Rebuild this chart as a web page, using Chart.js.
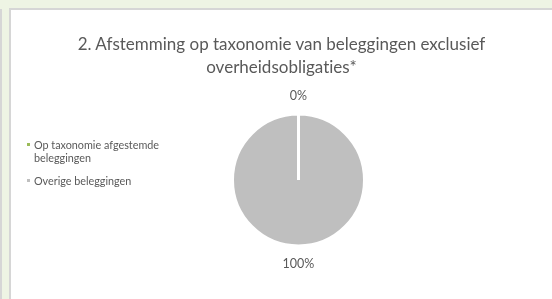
<!DOCTYPE html>
<html>
<head>
<meta charset="utf-8">
<script src="https://cdn.jsdelivr.net/npm/chart.js@4"></script>
<style>
  html, body { margin: 0; padding: 0; }
  body { width: 552px; height: 299px; background: #eef4e4; position: relative; overflow: hidden; font-family: Lato, "Open Sans", sans-serif; font-variant-ligatures: none; }
  #outerLine { position: absolute; left: 0; top: 9px; width: 2px; height: 290px; background: #d6d6d6; }
  #panel { position: absolute; left: 9px; top: 8px; width: 543px; height: 291px; background: #fff; border-top: 2px solid #d6d6d6; border-left: 2px solid #d6d6d6; box-sizing: border-box; }
  #title { position: absolute; left: 0; width: 541px; top: 22px; text-align: center; font-size: 17px; line-height: 23px; color: #595959; }
  #legend { position: absolute; left: 16px; top: 128px; font-size: 10.8px; line-height: 13px; color: #595959; }
  .item { position: relative; padding-left: 7px; margin-bottom: 10px; width: 180px; }
  .sw { position: absolute; left: 0; top: 5px; width: 3px; height: 3px; }
  canvas { position: absolute; left: 0; top: 0; }
</style>
</head>
<body>
<div id="outerLine"></div>
<div id="panel">
  <canvas id="c" width="541" height="289"></canvas>
  <div id="title"></div>
  <div id="legend"></div>
</div>
<script>
const titleLines = ["2. Afstemming op taxonomie van beleggingen exclusief", "overheidsobligaties*"];
const categories = ["Op taxonomie afgestemde beleggingen", "Overige beleggingen"];
const legendLines = [["Op taxonomie afgestemde", "beleggingen"], ["Overige beleggingen"]];
const values = [0, 100];
const valueLabels = ["0%", "100%"];
const colors = ["#9bbb59", "#bfbfbf"];

document.getElementById('title').innerHTML = titleLines.join('<br>');
const lg = document.getElementById('legend');
legendLines.forEach((lines, i) => {
  const d = document.createElement('div');
  d.className = 'item';
  const s = document.createElement('span');
  s.className = 'sw';
  s.style.background = colors[i];
  d.appendChild(s);
  const t = document.createElement('span');
  t.innerHTML = lines.join('<br>');
  d.appendChild(t);
  lg.appendChild(d);
});

const labelPlugin = {
  id: 'outLabels',
  afterDatasetsDraw(chart) {
    const ctx = chart.ctx;
    const meta = chart.getDatasetMeta(0);
    ctx.save();
    ctx.font = '12.5px Lato, "Open Sans", sans-serif';
    ctx.fillStyle = '#595959';
    ctx.textAlign = 'center';
    ctx.textBaseline = 'middle';
    meta.data.forEach((arc, i) => {
      const p = arc.getProps(['x', 'y', 'startAngle', 'endAngle', 'outerRadius'], true);
      const mid = (p.startAngle + p.endAngle) / 2;
      const r = p.outerRadius + 18;
      ctx.fillText(valueLabels[i], p.x + Math.cos(mid) * r, p.y + Math.sin(mid) * r);
    });
    ctx.restore();
  }
};

new Chart(document.getElementById('c'), {
  type: 'pie',
  data: {
    labels: categories,
    datasets: [{
      data: values,
      backgroundColor: colors,
      borderColor: '#ffffff',
      borderWidth: 3
    }]
  },
  options: {
    responsive: false,
    animation: false,
    events: [],
    layout: { padding: { left: 220, right: 186, top: 102, bottom: 51 } },
    plugins: {
      legend: { display: false },
      title: { display: false },
      tooltip: { enabled: false }
    }
  },
  plugins: [labelPlugin]
});
</script>
</body>
</html>
